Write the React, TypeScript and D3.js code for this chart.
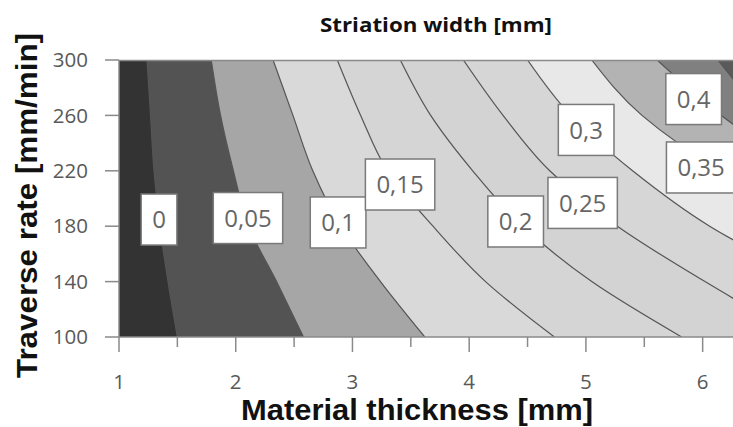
import React, { useEffect, useRef } from 'react';
import * as d3 from 'd3';

const rates = [300, 260, 220, 180, 140, 100];

// material thickness [mm] where each contour crosses the rates above
const c000 = [1.24, 1.27, 1.3, 1.35, 1.42, 1.5];
const c005 = [1.79, 1.87, 1.98, 2.11, 2.35, 2.58];
const c010 = [2.32, 2.49, 2.66, 2.9, 3.24, 3.62];
const c015 = [2.87, 3.07, 3.3, 3.69, 4.14, 4.73];
const c020 = [3.41, 3.67, 4.03, 4.46, 5.05, 5.82];
const c025 = [3.95, 4.29, 4.69, 5.27, 6.02, 6.84];
const c030 = [4.5, 4.87, 5.4, 6.06, 6.95, 7.98];
const c035 = [5.05, 5.48, 6.16, 7.09, 8.12, 9.15];
const c040 = [5.61, 6.16, 6.84, 7.61, 8.55, 9.49];
const c045 = [6.13, 6.54, 7.09, 7.78, 8.9, 9.9];
const contours = [c000, c005, c010, c015, c020, c025, c030, c035, c040, c045];

// fill of each band, lowest first (below 0 ... above 0.45)
const bandColors = [
  '#333333', '#535353', '#a6a6a6', '#d9d9d9', '#d5d5d5', '#d3d3d3',
  '#d6d6d6', '#e8e8e8', '#b3b3b3', '#808080', '#5a5a5a',
];

// contour labels
const labelText = ['0', '0,05', '0,1', '0,15', '0,2', '0,25', '0,3', '0,35', '0,4'];
const labelThickness = [1.343, 2.105, 2.877, 3.408, 4.398, 4.972, 5.002, 5.987, 5.923];
const labelRate = [184.8, 185.9, 182.7, 210.1, 183.4, 196.8, 249.5, 222.4, 271.8];

const xTicks = [1, 2, 3, 4, 5, 6];
const xMinorTicks = [1.5, 2.5, 3.5, 4.5, 5.5];
const yTicks = [100, 140, 180, 220, 260, 300];

const W = 733;
const H = 427;

const App: React.FC = () => {
  const svgRef = useRef<SVGSVGElement>(null);

  useEffect(() => {
    if (!svgRef.current) return;
    const svg = d3.select(svgRef.current);
    svg.selectAll('*').remove();

    const left = 119, right = 733, top = 60, bottom = 337;
    const x = d3.scaleLinear().domain([1, 6.26]).range([left, right]);
    const y = d3.scaleLinear().domain([100, 300]).range([bottom, top]);
    const axisColor = '#8a8a8a';
    const tickText = '#595959';

    svg.append('defs').append('clipPath').attr('id', 'plot-clip')
      .append('rect')
      .attr('x', left).attr('y', top)
      .attr('width', right - left).attr('height', bottom - top);

    const plot = svg.append('g').attr('clip-path', 'url(#plot-clip)');

    // lowest band fills everything, the others paint the region right of their contour
    plot.append('rect')
      .attr('x', left).attr('y', top)
      .attr('width', right - left).attr('height', bottom - top)
      .attr('fill', bandColors[0]);

    const line = d3.line<number>()
      .x(d => x(d))
      .y((d, i) => y(rates[i]))
      .curve(d3.curveMonotoneY);

    const farX = x(12);
    contours.forEach((c, k) => {
      plot.append('path')
        .attr('d', `${line(c)}L${farX},${y(rates[rates.length - 1])}L${farX},${y(rates[0])}Z`)
        .attr('fill', bandColors[k + 1]);
    });

    contours.forEach(c => {
      plot.append('path')
        .attr('d', line(c))
        .attr('fill', 'none')
        .attr('stroke', '#555555')
        .attr('stroke-width', 1.2);
    });

    // top border
    svg.append('line')
      .attr('x1', left).attr('x2', right).attr('y1', top + 0.5).attr('y2', top + 0.5)
      .attr('stroke', axisColor).attr('stroke-width', 1.5);

    // y axis
    svg.append('line')
      .attr('x1', left).attr('x2', left).attr('y1', top).attr('y2', bottom)
      .attr('stroke', axisColor).attr('stroke-width', 1.5);
    yTicks.forEach(t => {
      svg.append('line')
        .attr('x1', left - 14).attr('x2', left).attr('y1', y(t)).attr('y2', y(t))
        .attr('stroke', axisColor).attr('stroke-width', 1.5);
      svg.append('text')
        .attr('x', 88).attr('y', y(t)).attr('dy', '0.35em')
        .attr('text-anchor', 'end')
        .style('font-family', '"Open Sans", sans-serif')
        .style('font-size', '20.5px')
        .style('fill', tickText)
        .text(t);
    });

    // x axis
    svg.append('line')
      .attr('x1', left).attr('x2', right).attr('y1', bottom).attr('y2', bottom)
      .attr('stroke', axisColor).attr('stroke-width', 1.5);
    xTicks.forEach(t => {
      svg.append('line')
        .attr('x1', x(t)).attr('x2', x(t)).attr('y1', bottom).attr('y2', bottom + 15)
        .attr('stroke', axisColor).attr('stroke-width', 1.5);
      svg.append('text')
        .attr('x', x(t)).attr('y', 389)
        .attr('text-anchor', 'middle')
        .style('font-family', '"Open Sans", sans-serif')
        .style('font-size', '20.5px')
        .style('fill', tickText)
        .text(t);
    });
    xMinorTicks.forEach(t => {
      svg.append('line')
        .attr('x1', x(t)).attr('x2', x(t)).attr('y1', bottom).attr('y2', bottom + 10)
        .attr('stroke', axisColor).attr('stroke-width', 1.5);
    });

    // contour labels
    labelText.forEach((s, i) => {
      const cx = x(labelThickness[i]);
      const cy = y(labelRate[i]);
      const g = svg.append('g');
      const box = g.append('rect');
      const txt = g.append('text')
        .attr('x', cx).attr('y', cy).attr('dy', '0.36em')
        .attr('text-anchor', 'middle')
        .style('font-family', '"Open Sans", sans-serif')
        .style('font-size', '24px')
        .style('fill', '#666666')
        .text(s);
      const w = (txt.node() as SVGTextElement).getComputedTextLength() + 22;
      box.attr('x', cx - w / 2).attr('y', cy - 25.5)
        .attr('width', w).attr('height', 51)
        .attr('fill', '#ffffff')
        .attr('stroke', '#7a7a7a')
        .attr('stroke-width', 1.5);
    });

    // titles
    svg.append('text')
      .attr('x', 320).attr('y', 32)
      .attr('textLength', 232).attr('lengthAdjust', 'spacingAndGlyphs')
      .style('font-family', '"Open Sans", sans-serif')
      .style('font-weight', 700)
      .style('font-size', '20px')
      .style('fill', '#111')
      .text('Striation width [mm]');

    svg.append('text')
      .attr('x', 241).attr('y', 420)
      .attr('textLength', 352).attr('lengthAdjust', 'spacingAndGlyphs')
      .style('font-family', '"Liberation Sans", Arial, sans-serif')
      .style('font-weight', 700)
      .style('font-size', '30px')
      .style('fill', '#111')
      .text('Material thickness [mm]');

    svg.append('text')
      .attr('transform', 'translate(37,378) rotate(-90)')
      .attr('textLength', 345).attr('lengthAdjust', 'spacingAndGlyphs')
      .style('font-family', '"Liberation Sans", Arial, sans-serif')
      .style('font-weight', 700)
      .style('font-size', '30px')
      .style('fill', '#111')
      .text('Traverse rate [mm/min]');
  }, []);

  return (
    <svg
      ref={svgRef}
      width={W}
      height={H}
      style={{ position: 'absolute', left: 0, top: 0, background: '#fff' }}
    />
  );
};

export default App;
